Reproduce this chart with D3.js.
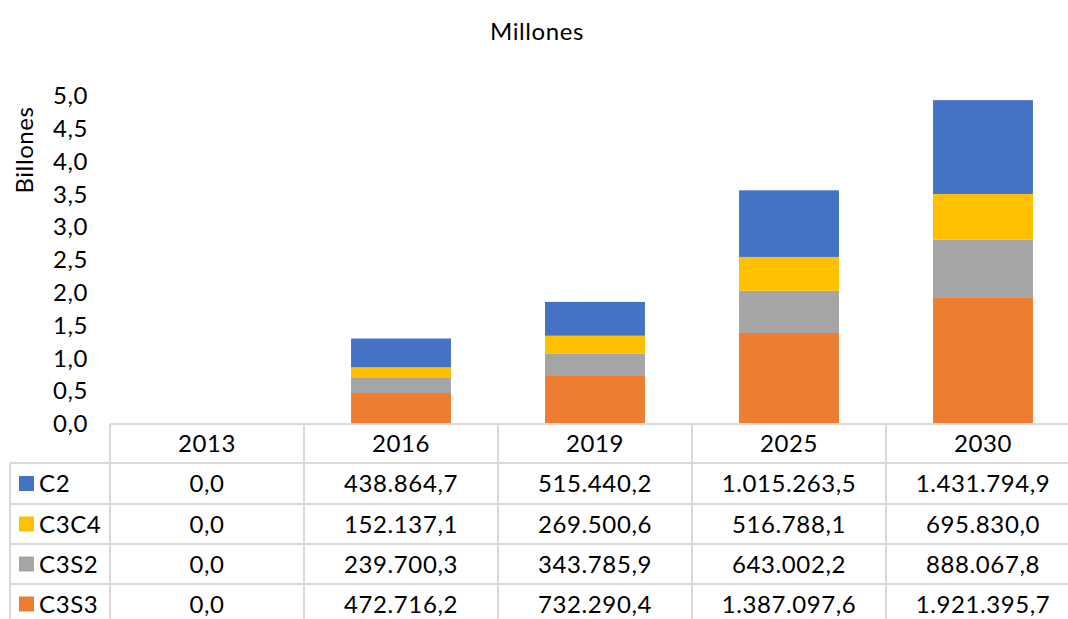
<!DOCTYPE html>
<html>
<head>
<meta charset="utf-8">
<script src="https://cdn.jsdelivr.net/npm/d3@7"></script>
<style>
  html, body { margin: 0; padding: 0; background: #fff; }
  svg { display: block; font-family: Lato, "Noto Sans", sans-serif; letter-spacing: 0.6px; }
</style>
</head>
<body>
<svg id="chart" width="1068" height="619"></svg>
<script>
// Years shown on the category axis / table header
const years = ["2013", "2016", "2019", "2025", "2030"];

// Series values in millions, one entry per year
const C3S3 = [0.0, 472716.2, 732290.4, 1387097.6, 1921395.7];
const C3S2 = [0.0, 239700.3, 343785.9, 643002.2, 888067.8];
const C3C4 = [0.0, 152137.1, 269500.6, 516788.1, 695830.0];
const C2   = [0.0, 438864.7, 515440.2, 1015263.5, 1431794.9];

// Stack order bottom -> top
const seriesNames = ["C3S3", "C3S2", "C3C4", "C2"];
const seriesValues = { C3S3, C3S2, C3C4, C2 };
const seriesColors = { C3S3: "#ED7D31", C3S2: "#A5A5A5", C3C4: "#FFC000", C2: "#4472C4" };

// Value-axis ticks (billions)
const yTicks = [0, 0.5, 1, 1.5, 2, 2.5, 3, 3.5, 4, 4.5, 5];

const svg = d3.select("#chart");
const fontSize = 24;

const plotLeft = 110, colW = 194;
const x = d3.scaleBand().domain(years).range([plotLeft, plotLeft + colW * years.length]).padding(0);
const y = d3.scaleLinear().domain([0, 5]).range([424, 96]);

const fmtAxis = v => d3.format(".1f")(v).replace(".", ",");
const esLocale = d3.formatLocale({ decimal: ",", thousands: ".", grouping: [3], currency: ["", ""] });
const fmtCell = esLocale.format(",.1f");

// Title
svg.append("text")
  .attr("x", 537).attr("y", 40)
  .attr("text-anchor", "middle")
  .attr("font-size", fontSize).attr("fill", "#000")
  .text("Millones");

// Y axis title
svg.append("text")
  .attr("transform", "translate(33,150) rotate(-90)")
  .attr("text-anchor", "middle")
  .attr("font-size", fontSize).attr("fill", "#000")
  .text("Billones");

// Y axis labels
const yAxis = d3.axisLeft(y).tickValues(yTicks).tickFormat(fmtAxis).tickSize(0).tickPadding(0);
const yg = svg.append("g").attr("transform", "translate(88,0)").call(yAxis);
yg.select(".domain").remove();
yg.selectAll("text").attr("font-size", fontSize).attr("font-family", "Lato, 'Noto Sans', sans-serif").attr("fill", "#000");

// Stacked bars (values converted to billions)
const rows = years.map((yr, i) => {
  const r = { year: yr };
  seriesNames.forEach(s => { r[s] = seriesValues[s][i] / 1e6; });
  return r;
});
const stack = d3.stack().keys(seriesNames)(rows);
const barW = x.bandwidth() * 0.515;

svg.append("g").selectAll("g")
  .data(stack)
  .join("g")
  .attr("fill", d => seriesColors[d.key])
  .selectAll("rect")
  .data(d => d)
  .join("rect")
  .attr("x", d => x(d.data.year) + (x.bandwidth() - barW) / 2)
  .attr("width", barW)
  .attr("y", d => y(d[1]))
  .attr("height", d => y(d[0]) - y(d[1]));

// Data table beneath the plot
const gridColor = "#D9D9D9";
const tableTop = 424;
const rowEdges = [424, 463, 504, 544, 584, 624];
const tableRight = plotLeft + colW * years.length;
const legendLeft = 10;
const tableOrder = ["C2", "C3C4", "C3S2", "C3S3"];
const grid = svg.append("g").attr("stroke", gridColor).attr("stroke-width", 2);

// horizontal lines
grid.append("line").attr("x1", plotLeft).attr("x2", tableRight).attr("y1", rowEdges[0]).attr("y2", rowEdges[0]);
rowEdges.slice(1).forEach(yy => {
  grid.append("line").attr("x1", legendLeft).attr("x2", tableRight).attr("y1", yy).attr("y2", yy);
});
// vertical lines
grid.append("line").attr("x1", legendLeft).attr("x2", legendLeft).attr("y1", rowEdges[1]).attr("y2", 624);
years.forEach(yr => {
  grid.append("line").attr("x1", x(yr)).attr("x2", x(yr)).attr("y1", tableTop).attr("y2", 624);
});
grid.append("line").attr("x1", tableRight).attr("x2", tableRight).attr("y1", tableTop).attr("y2", 624);

// header row (category axis labels)
svg.append("g").selectAll("text")
  .data(years)
  .join("text")
  .attr("x", d => x(d) + x.bandwidth() / 2)
  .attr("y", (rowEdges[0] + rowEdges[1]) / 2)
  .attr("dy", "0.36em")
  .attr("text-anchor", "middle")
  .attr("font-size", fontSize).attr("fill", "#000")
  .text(d => d);

// body rows
tableOrder.forEach((s, ri) => {
  const cy = (rowEdges[ri + 1] + rowEdges[ri + 2]) / 2;
  svg.append("rect")
    .attr("x", 19).attr("y", cy - 7.5)
    .attr("width", 15).attr("height", 15)
    .attr("fill", seriesColors[s]);
  svg.append("text")
    .attr("x", 39).attr("y", cy).attr("dy", "0.36em")
    .attr("font-size", fontSize).attr("fill", "#000")
    .text(s);
  svg.append("g").selectAll("text")
    .data(seriesValues[s])
    .join("text")
    .attr("x", (d, i) => x(years[i]) + x.bandwidth() / 2)
    .attr("y", cy).attr("dy", "0.36em")
    .attr("text-anchor", "middle")
    .attr("font-size", fontSize).attr("fill", "#000")
    .text(d => fmtCell(d));
});
</script>
</body>
</html>
